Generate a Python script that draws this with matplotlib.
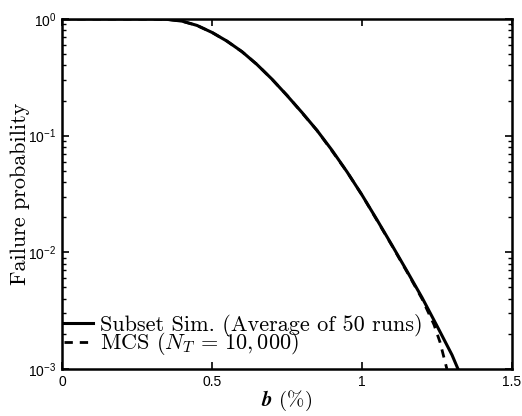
import numpy as np
import matplotlib
matplotlib.use("Agg")
import matplotlib.pyplot as plt
from matplotlib.ticker import FixedLocator, FuncFormatter, LogLocator, NullFormatter

plt.rcParams["mathtext.fontset"] = "cm"
plt.rcParams["axes.formatter.use_mathtext"] = True

# failure probability vs. b (%)
b_ss = [0.0, 0.1, 0.2, 0.3, 0.35, 0.4, 0.45, 0.5, 0.55, 0.6, 0.65, 0.7, 0.75,
        0.8, 0.85, 0.9, 0.95, 1.0, 1.05, 1.1, 1.15, 1.2, 1.25, 1.3, 1.32]
pf_ss = [1.0, 1.0, 1.0, 0.999, 0.993, 0.959, 0.881, 0.767, 0.646, 0.525, 0.407,
         0.305, 0.221, 0.158, 0.111, 0.075, 0.049, 0.031, 0.019, 0.0115,
         0.0069, 0.0041, 0.00234, 0.00132, 0.001]

b_mcs = [0.0, 0.1, 0.2, 0.3, 0.35, 0.4, 0.45, 0.5, 0.55, 0.6, 0.65, 0.7, 0.75,
         0.8, 0.85, 0.9, 0.95, 1.0, 1.05, 1.1, 1.15, 1.2, 1.24, 1.26, 1.283]
pf_mcs = [1.0, 1.0, 1.0, 0.999, 0.993, 0.958, 0.880, 0.768, 0.645, 0.524, 0.408,
          0.304, 0.222, 0.157, 0.111, 0.074, 0.049, 0.031, 0.0188, 0.0114,
          0.0068, 0.0040, 0.0024, 0.0017, 0.001]

x_ticks = [0, 0.5, 1, 1.5]
x_ticklabels = ["0", "0.5", "1", "1.5"]
y_ticks = [1e-3, 1e-2, 1e-1, 1e0]

label_ss = "Subset Sim. (Average of 50 runs)"
label_mcs = r"MCS ($N_T\,=\,10,000$)"

serif = "cmr10"
sans = "Liberation Sans"

fig = plt.figure(figsize=(5.22, 4.16), dpi=100)
ax = fig.add_axes([62 / 522, 47 / 416, 450 / 522, 350 / 416])

ax.semilogy(b_ss, pf_ss, color="black", lw=2.2, label=label_ss)
ax.semilogy(b_mcs, pf_mcs, color="black", lw=2.0, ls=(0, (3, 2.5)), label=label_mcs)

ax.set_xlim(0, 1.5)
ax.set_ylim(1e-3, 1e0)

ax.xaxis.set_major_locator(FixedLocator(x_ticks))
ax.set_xticklabels(x_ticklabels)
ax.yaxis.set_major_locator(FixedLocator(y_ticks))
ax.yaxis.set_minor_locator(LogLocator(base=10, subs=np.arange(2, 10)))
ax.yaxis.set_minor_formatter(NullFormatter())
ax.yaxis.set_major_formatter(FuncFormatter(
    lambda v, pos: r"$\mathregular{10^{%d}}$" % int(round(np.log10(v)))))

ax.tick_params(which="both", direction="in", top=True, right=True)
ax.tick_params(which="major", length=5, width=1.2, labelsize=10, pad=4)
ax.tick_params(which="minor", length=3, width=1.0)
for lab in ax.get_xticklabels() + ax.get_yticklabels():
    lab.set_fontfamily(sans)

for sp in ax.spines.values():
    sp.set_linewidth(1.8)

ax.set_ylabel("Failure probability", fontfamily=serif, fontsize=16)
ax.yaxis.set_label_coords(-0.072, 0.5)
ax.set_xlabel(r"$\mathbfit{b}$ (%)", fontfamily=serif, fontsize=15, labelpad=0)

leg = ax.legend(loc="lower left", frameon=False, prop={"family": serif, "size": 16},
                handlelength=1.3, handletextpad=0.3, labelspacing=-0.3,
                borderpad=0.1, borderaxespad=0.0, bbox_to_anchor=(0.0, 0.027))

fig.savefig("out.png", dpi=100)
